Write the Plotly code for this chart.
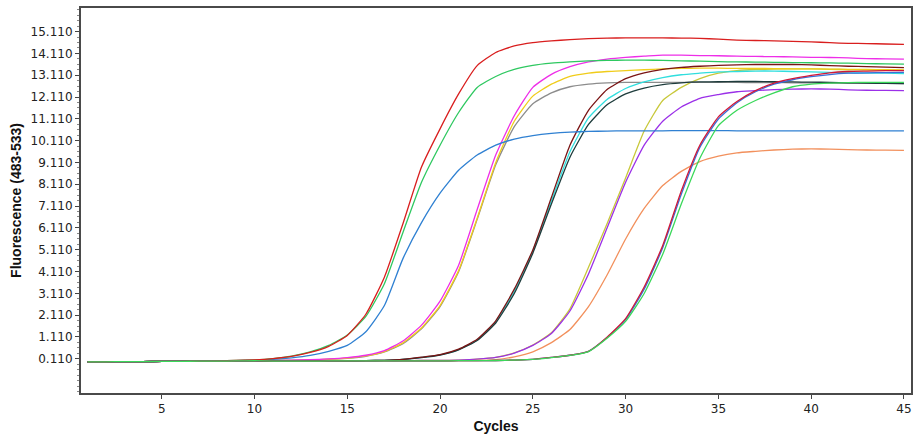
import plotly.graph_objects as go

cycles = list(range(1, 46))

base10 = [-0.03, -0.03, -0.02, -0.02, -0.01, -0.01, 0.0, 0.01, 0.03, 0.06]
flat10 = [-0.03, -0.03, -0.02, -0.02, -0.01, -0.01, 0.0, 0.0, 0.01, 0.02]

# early group (~cycle 18)
red_a = base10 + [0.12, 0.22, 0.40, 0.68, 1.18, 2.15, 3.85, 6.30, 8.90, 10.65,
                  12.25, 13.55, 14.15, 14.45, 14.60, 14.68, 14.74, 14.79, 14.81, 14.82,
                  14.82, 14.82, 14.81, 14.80, 14.76, 14.72, 14.70, 14.68, 14.66, 14.64,
                  14.60, 14.57, 14.56, 14.54, 14.52]
green_a = base10 + [0.12, 0.23, 0.42, 0.72, 1.20, 2.05, 3.55, 5.90, 8.20, 9.90,
                    11.40, 12.55, 13.05, 13.38, 13.56, 13.66, 13.72, 13.77, 13.79, 13.80,
                    13.80, 13.79, 13.77, 13.75, 13.73, 13.72, 13.71, 13.70, 13.69, 13.68,
                    13.67, 13.66, 13.64, 13.63, 13.62]
blue_a = [-0.03, -0.03, -0.02, -0.02, -0.01, -0.01, 0.0, 0.01, 0.02, 0.04,
          0.08, 0.15, 0.26, 0.45, 0.72, 1.35, 2.55, 4.70, 6.35, 7.70,
          8.75, 9.45, 9.90, 10.18, 10.34, 10.44, 10.50, 10.53, 10.55, 10.56,
          10.56, 10.56, 10.57, 10.57, 10.57, 10.56, 10.56, 10.56, 10.56, 10.56,
          10.56, 10.56, 10.56, 10.56, 10.56]

# second group (~cycle 22)
magenta_b = flat10 + [0.03, 0.05, 0.07, 0.10, 0.16, 0.27, 0.48, 0.92, 1.65, 2.75,
                      4.40, 6.95, 9.45, 11.25, 12.55, 13.15, 13.50, 13.72, 13.85, 13.93,
                      13.98, 14.03, 14.03, 14.01, 14.00, 13.98, 13.97, 13.96, 13.95, 13.93,
                      13.92, 13.90, 13.87, 13.86, 13.85]
yellow_b = flat10 + [0.03, 0.04, 0.06, 0.09, 0.14, 0.24, 0.44, 0.84, 1.52, 2.55,
                     4.15, 6.55, 9.10, 11.00, 12.15, 12.70, 13.05, 13.20, 13.28, 13.32,
                     13.36, 13.40, 13.42, 13.43, 13.43, 13.42, 13.42, 13.41, 13.40, 13.40,
                     13.39, 13.38, 13.37, 13.36, 13.35]
gray_b = flat10 + [0.03, 0.04, 0.06, 0.08, 0.13, 0.22, 0.42, 0.80, 1.48, 2.50,
                   4.10, 6.50, 9.00, 10.75, 11.80, 12.30, 12.58, 12.70, 12.76, 12.78,
                   12.78, 12.78, 12.78, 12.78, 12.78, 12.78, 12.77, 12.77, 12.76, 12.76,
                   12.75, 12.74, 12.73, 12.73, 12.72]

# third group (~cycle 26)
maroon_c = flat10 + [0.0, 0.0, 0.01, 0.01, 0.01, 0.02, 0.04, 0.08, 0.18, 0.30,
                     0.55, 1.00, 1.85, 3.30, 5.10, 7.50, 9.90, 11.50, 12.45, 12.95,
                     13.22, 13.38, 13.47, 13.52, 13.56, 13.58, 13.60, 13.60, 13.60, 13.58,
                     13.55, 13.52, 13.50, 13.48, 13.46]
cyan_c = flat10 + [0.0, 0.0, 0.01, 0.01, 0.01, 0.02, 0.04, 0.08, 0.17, 0.29,
                   0.53, 0.97, 1.80, 3.20, 5.05, 7.35, 9.60, 11.15, 12.00, 12.50,
                   12.80, 13.00, 13.13, 13.20, 13.26, 13.28, 13.30, 13.30, 13.28, 13.26,
                   13.24, 13.22, 13.20, 13.20, 13.18]
dark_c = flat10 + [0.0, 0.0, 0.01, 0.01, 0.01, 0.02, 0.04, 0.08, 0.16, 0.28,
                   0.52, 0.95, 1.75, 3.10, 4.95, 7.20, 9.35, 10.85, 11.75, 12.25,
                   12.52, 12.68, 12.76, 12.80, 12.81, 12.82, 12.82, 12.81, 12.80, 12.79,
                   12.78, 12.76, 12.75, 12.73, 12.72]

# fourth group (~cycle 29)
olive_d = flat10 + [0.0, 0.0, 0.01, 0.01, 0.01, 0.02, 0.02, 0.02, 0.03, 0.03,
                    0.05, 0.09, 0.17, 0.38, 0.74, 1.30, 2.40, 4.30, 6.30, 8.40,
                    10.55, 11.95, 12.55, 12.95, 13.20, 13.32, 13.37, 13.39, 13.40, 13.40,
                    13.38, 13.36, 13.35, 13.34, 13.33]
purple_d = flat10 + [0.0, 0.0, 0.01, 0.01, 0.01, 0.02, 0.02, 0.02, 0.03, 0.03,
                     0.05, 0.09, 0.17, 0.37, 0.72, 1.27, 2.30, 4.00, 6.10, 8.20,
                     9.90, 11.00, 11.65, 12.05, 12.22, 12.35, 12.40, 12.45, 12.47, 12.48,
                     12.47, 12.44, 12.42, 12.41, 12.40]
orange_d = flat10 + [0.0, 0.0, 0.01, 0.01, 0.01, 0.02, 0.02, 0.02, 0.02, 0.02,
                     0.02, 0.03, 0.07, 0.20, 0.43, 0.85, 1.45, 2.50, 3.95, 5.60,
                     7.00, 8.05, 8.70, 9.15, 9.40, 9.55, 9.62, 9.68, 9.72, 9.73,
                     9.72, 9.70, 9.68, 9.67, 9.66]

# late group (~cycle 33)
red_e = flat10 + [0.0, 0.0, 0.0, 0.01, 0.01, 0.01, 0.01, 0.01, 0.01, 0.01,
                  0.02, 0.02, 0.03, 0.05, 0.08, 0.17, 0.27, 0.45, 1.10, 1.95,
                  3.40, 5.30, 7.80, 9.90, 11.20, 11.90, 12.40, 12.75, 12.95, 13.10,
                  13.22, 13.28, 13.30, 13.32, 13.32]
blue_e = flat10 + [0.0, 0.0, 0.0, 0.01, 0.01, 0.01, 0.01, 0.01, 0.01, 0.01,
                   0.02, 0.02, 0.03, 0.05, 0.08, 0.17, 0.27, 0.45, 1.08, 1.90,
                   3.30, 5.20, 7.65, 9.80, 11.10, 11.85, 12.35, 12.70, 12.90, 13.04,
                   13.14, 13.20, 13.22, 13.23, 13.24]
green_e = flat10 + [0.0, 0.0, 0.0, 0.01, 0.01, 0.01, 0.01, 0.01, 0.01, 0.01,
                    0.02, 0.02, 0.03, 0.05, 0.08, 0.16, 0.26, 0.44, 1.05, 1.82,
                    3.10, 4.90, 7.20, 9.30, 10.80, 11.50, 11.95, 12.30, 12.58, 12.70,
                    12.75, 12.77, 12.78, 12.78, 12.78]

series = [
    ("olive", olive_d, "#c8c83a"),
    ("purple", purple_d, "#9b30e8"),
    ("orange", orange_d, "#f2905c"),
    ("gray", gray_b, "#8c8c8c"),
    ("yellow", yellow_b, "#f0cc1a"),
    ("magenta", magenta_b, "#ee2ee8"),
    ("cyan", cyan_c, "#30dede"),
    ("dark", dark_c, "#1e3c3c"),
    ("maroon", maroon_c, "#7a1414"),
    ("blue_a", blue_a, "#2f80d2"),
    ("green_a", green_a, "#2ec860"),
    ("red_a", red_a, "#d91e1e"),
    ("blue_e", blue_e, "#3a6fd8"),
    ("red_e", red_e, "#d01838"),
    ("green_e", green_e, "#3ad85a"),
]

ytick_vals = [0.11 + i for i in range(16)]
ytick_text = ["%.3f" % v for v in ytick_vals]
xtick_vals = [5, 10, 15, 20, 25, 30, 35, 40, 45]

fig = go.Figure()
for name, ys, col in series:
    fig.add_trace(go.Scatter(x=cycles, y=ys, mode="lines", name=name,
                             line=dict(color=col, width=1.3, shape="spline", smoothing=0.5)))

fig.update_layout(
    width=919, height=439,
    margin=dict(l=81, r=6, t=7, b=46),
    paper_bgcolor="white", plot_bgcolor="white",
    showlegend=False,
    font=dict(family="DejaVu Sans", size=12, color="#222222"),
)
fig.update_xaxes(
    range=[0.65, 45.38], tickvals=xtick_vals, ticktext=[str(v) for v in xtick_vals],
    ticks="outside", ticklen=4, tickcolor="#444444",
    showline=True, mirror=True, linecolor="#4a4a4a", linewidth=2,
    showgrid=False, zeroline=False,
    title=dict(text="<b>Cycles</b>", font=dict(family="Liberation Sans", size=14, color="#111111"), standoff=6),
)
fig.update_yaxes(
    range=[-1.46, 16.19], tickvals=ytick_vals, ticktext=ytick_text,
    ticks="outside", ticklen=4, tickcolor="#444444",
    minor=dict(ticks="outside", ticklen=2, tickcolor="#888888", dtick=0.25, tick0=0.11),
    showline=True, mirror=True, linecolor="#4a4a4a", linewidth=2,
    showgrid=False, zeroline=False,
    title=dict(text="<b>Fluorescence (483-533)</b>", font=dict(family="Liberation Sans", size=14, color="#111111"), standoff=6),
)

fig.write_html("out.html")
